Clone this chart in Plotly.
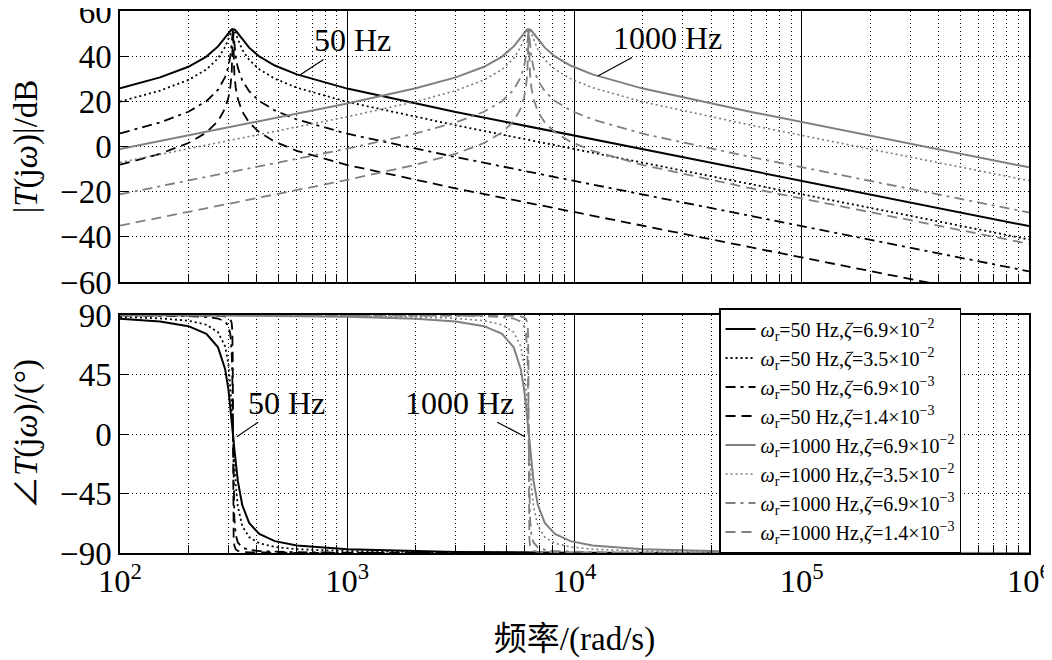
import plotly.graph_objects as go
from plotly.subplots import make_subplots

# 频率 (rad/s)
w_50 = [100, 150, 200, 240, 270, 290, 300, 306, 310, 312, 313.5, 314.16, 314.8, 316.3,
        318.5, 323, 330, 345, 370, 410, 480, 600, 1000, 3000, 1e4, 1e5, 1e6]
w_1000 = [100, 300, 1000, 2000, 3000, 4000, 4800, 5400, 5800, 6000, 6120, 6200, 6240, 6270,
          6283.2, 6296, 6326, 6370, 6460, 6600, 6900, 7400, 8200, 9600, 12000, 20000,
          60000, 2e5, 1e6]

# 幅值 (dB)
mag_50_a = [25.78, 30.59, 35.30, 39.80, 44.33, 48.30, 50.40, 51.41, 51.84, 51.96, 52.00, 52.00,
            52.00, 51.96, 51.83, 51.35, 50.22, 47.46, 43.76, 39.90, 35.87, 31.92, 25.64, 15.30,
            4.75, -15.26, -35.26]
mag_50_b = [19.88, 24.72, 29.47, 34.10, 39.02, 44.05, 47.62, 50.05, 51.41, 51.83, 51.98, 52.00,
            51.98, 51.84, 51.38, 49.88, 47.26, 42.87, 38.37, 34.20, 30.05, 26.05, 19.74, 9.40,
            -1.15, -21.16, -41.16]
mag_50_c = [5.79, 10.63, 15.39, 20.07, 25.13, 30.67, 35.40, 40.09, 45.25, 49.00, 51.62, 52.00,
            51.64, 49.06, 45.05, 39.65, 34.85, 29.31, 24.46, 20.17, 15.98, 11.96, 5.65, -4.70,
            -15.25, -35.26, -55.26]
mag_50_d = [-8.08, -3.23, 1.53, 6.21, 11.28, 16.85, 21.64, 26.50, 32.38, 37.97, 46.89, 52.00,
            47.05, 38.10, 32.12, 26.04, 21.08, 15.48, 10.61, 6.31, 2.12, -1.90, -8.21, -18.56,
            -29.11, -49.12, -69.12]
mag_1000_a = [-1.16, 8.40, 19.06, 25.78, 30.59, 35.30, 39.80, 44.33, 48.30, 50.40, 51.41, 51.84,
              51.96, 52.00, 52.00, 52.00, 51.96, 51.83, 51.35, 50.22, 47.46, 43.76, 39.90, 35.87,
              31.92, 25.64, 15.30, 4.75, -9.24]
mag_1000_b = [-7.06, 2.50, 13.16, 19.88, 24.72, 29.47, 34.10, 39.02, 44.05, 47.62, 50.05, 51.41,
              51.83, 51.98, 52.00, 51.98, 51.84, 51.38, 49.88, 47.26, 42.87, 38.37, 34.20, 30.05,
              26.05, 19.74, 9.40, -1.15, -15.14]
mag_1000_c = [-21.16, -11.60, -0.94, 5.79, 10.63, 15.39, 20.07, 25.13, 30.67, 35.40, 40.09, 45.25,
              49.00, 51.62, 52.00, 51.64, 49.06, 45.05, 39.65, 34.85, 29.31, 24.46, 20.17, 15.98,
              11.96, 5.65, -4.70, -15.25, -29.24]
mag_1000_d = [-35.02, -25.46, -14.80, -8.08, -3.23, 1.53, 6.21, 11.28, 16.85, 21.64, 26.50, 32.38,
              37.97, 46.89, 52.00, 47.05, 38.10, 32.12, 26.04, 21.08, 15.48, 10.61, 6.31, 2.12,
              -1.90, -8.21, -18.56, -29.11, -43.10]

# 相位 (°)
ph_50_a = [87.20, 85.12, 81.60, 75.79, 65.59, 49.26, 33.77, 20.88, 10.93, 5.71, 1.74, 0,
           -1.69, -5.62, -11.25, -21.91, -35.49, -53.66, -67.23, -75.63, -81.02, -84.31,
           -87.25, -89.16, -89.75, -89.98, -90.00]
ph_50_b = [88.58, 87.52, 85.71, 82.68, 77.04, 66.40, 52.81, 36.94, 20.85, 11.15, 3.43, 0,
           -3.34, -10.99, -21.41, -38.41, -54.58, -69.53, -77.98, -82.60, -85.42, -87.11,
           -88.60, -89.58, -89.87, -89.99, -90.00]
ph_50_c = [89.72, 89.51, 89.15, 88.55, 87.40, 85.08, 81.49, 75.31, 62.63, 44.98, 16.93, 0,
           -16.47, -44.56, -63.31, -76.04, -82.02, -85.79, -87.60, -88.53, -89.09, -89.43,
           -89.72, -89.92, -89.98, -90.00, -90.00]
ph_50_d = [89.94, 89.90, 89.83, 89.71, 89.47, 89.00, 88.26, 86.95, 84.00, 78.52, 56.31, 0,
           -55.54, -78.36, -84.18, -87.11, -88.37, -89.14, -89.51, -89.70, -89.82, -89.88,
           -89.94, -89.98, -89.99, -90.00, -90.00]
ph_1000_a = [89.87, 89.62, 88.71, 87.20, 85.12, 81.60, 75.79, 65.59, 49.26, 33.77, 20.88, 10.93,
             5.71, 1.74, 0, -1.69, -5.62, -11.25, -21.91, -35.49, -53.66, -67.23, -75.63,
             -81.02, -84.31, -87.25, -89.16, -89.75, -89.95]
ph_1000_b = [89.94, 89.81, 89.35, 88.58, 87.52, 85.71, 82.68, 77.04, 66.40, 52.81, 36.94, 20.85,
             11.15, 3.43, 0, -3.34, -10.99, -21.41, -38.41, -54.58, -69.53, -77.98, -82.60,
             -85.42, -87.11, -88.60, -89.58, -89.87, -89.97]
ph_1000_c = [89.99, 89.96, 89.87, 89.72, 89.51, 89.15, 88.55, 87.40, 85.08, 81.49, 75.31, 62.63,
             44.98, 16.93, 0, -16.47, -44.56, -63.31, -76.04, -82.02, -85.79, -87.60, -88.53,
             -89.09, -89.43, -89.72, -89.92, -89.98, -90.00]
ph_1000_d = [90.00, 89.99, 89.97, 89.94, 89.90, 89.83, 89.71, 89.47, 89.00, 88.26, 86.95, 84.00,
             78.52, 56.31, 0, -55.54, -78.36, -84.18, -87.11, -88.37, -89.14, -89.51, -89.70,
             -89.82, -89.88, -89.94, -89.98, -89.99, -90.00]

names = [
    "<i>ω</i><sub>r</sub>=50 Hz,<i>ζ</i>=6.9×10<sup>−2</sup>",
    "<i>ω</i><sub>r</sub>=50 Hz,<i>ζ</i>=3.5×10<sup>−2</sup>",
    "<i>ω</i><sub>r</sub>=50 Hz,<i>ζ</i>=6.9×10<sup>−3</sup>",
    "<i>ω</i><sub>r</sub>=50 Hz,<i>ζ</i>=1.4×10<sup>−3</sup>",
    "<i>ω</i><sub>r</sub>=1000 Hz,<i>ζ</i>=6.9×10<sup>−2</sup>",
    "<i>ω</i><sub>r</sub>=1000 Hz,<i>ζ</i>=3.5×10<sup>−2</sup>",
    "<i>ω</i><sub>r</sub>=1000 Hz,<i>ζ</i>=6.9×10<sup>−3</sup>",
    "<i>ω</i><sub>r</sub>=1000 Hz,<i>ζ</i>=1.4×10<sup>−3</sup>",
]

# 曲线样式: (频率, 幅值, 相位, 颜色, 线宽, 线型)
curves = [
    (w_50, mag_50_a, ph_50_a, "black", 2, "solid"),
    (w_50, mag_50_b, ph_50_b, "black", 1.8, "2px,3px"),
    (w_50, mag_50_c, ph_50_c, "black", 1.8, "10px,5px,3px,5px"),
    (w_50, mag_50_d, ph_50_d, "black", 1.8, "10px,6px"),
    (w_1000, mag_1000_a, ph_1000_a, "#808080", 2, "solid"),
    (w_1000, mag_1000_b, ph_1000_b, "#7c7c7c", 1.6, "2px,3px"),
    (w_1000, mag_1000_c, ph_1000_c, "#808080", 1.8, "10px,5px,3px,5px"),
    (w_1000, mag_1000_d, ph_1000_d, "#808080", 1.8, "10px,6px"),
]

FONT = "Liberation Serif, Times New Roman, Noto Sans CJK SC"

fig = make_subplots(rows=2, cols=1, shared_xaxes=True)

for name, (w, mag, ph, col, lw, dash) in zip(names, curves):
    fig.add_trace(go.Scatter(x=w, y=mag, mode="lines", name=name, legendgroup=name,
                             showlegend=False, line=dict(color=col, width=lw, dash=dash)),
                  row=1, col=1)
    fig.add_trace(go.Scatter(x=w, y=ph, mode="lines", name=name, legendgroup=name,
                             line=dict(color=col, width=lw, dash=dash)),
                  row=2, col=1)

xax = dict(type="log", range=[2, 6], dtick=1, exponentformat="power", automargin=False,
           ticklabeloverflow="allow",
           showline=True, linecolor="black", linewidth=1.5, mirror=True,
           ticks="inside", ticklen=10, tickcolor="black",
           showgrid=True, gridcolor="black", gridwidth=1.2,
           minor=dict(dtick="D1", ticks="inside", ticklen=8, tickcolor="black",
                      showgrid=True, gridcolor="black", gridwidth=1, griddash="1px,3px"),
           zeroline=False, tickfont=dict(size=26))
yax = dict(showline=True, linecolor="black", linewidth=1.5, mirror=True, automargin=False,
           ticklabeloverflow="allow",
           ticks="inside", ticklen=8, tickcolor="black",
           showgrid=True, gridcolor="black", gridwidth=1, griddash="1px,3px",
           zeroline=False, tickfont=dict(size=33))

fig.update_xaxes(**xax)
fig.update_xaxes(showticklabels=False, row=1, col=1)
fig.update_xaxes(title=dict(text="频率/(rad/s)", font=dict(size=33), standoff=28), row=2, col=1)
fig.update_yaxes(**yax)
fig.update_yaxes(range=[-60, 60], dtick=20, row=1, col=1,
                 title=dict(text="|<i>T</i>(j<i>ω</i>)|/dB", font=dict(size=33), standoff=18))
fig.update_yaxes(range=[-90, 90], dtick=45, row=2, col=1,
                 title=dict(text="∠<i>T</i>(j<i>ω</i>)/(°)", font=dict(size=33), standoff=18))

fig.update_layout(yaxis=dict(domain=[0.5, 1.0]), yaxis2=dict(domain=[0.0, 0.439]))

ann = dict(showarrow=True, arrowhead=0, arrowwidth=1.2, arrowcolor="black",
           font=dict(size=32, color="black"))
fig.add_annotation(x=2.792, y=31.7, xref="x", yref="y", text="50 Hz", ax=53, ay=-35, **ann)
fig.add_annotation(x=4.103, y=31.2, xref="x", yref="y", text="1000 Hz", ax=70, ay=-38, **ann)
fig.add_annotation(x=2.514, y=-2, xref="x2", yref="y2", text="50 Hz", ax=50, ay=-34, **ann)
fig.add_annotation(x=3.782, y=-2, xref="x2", yref="y2", text="1000 Hz", ax=-65, ay=-34, **ann)

# 页面有 8px 的边距, 图幅相应缩小
fig.update_layout(
    width=1044, height=652,
    margin=dict(l=112, r=23, t=3, b=107, autoexpand=False),
    plot_bgcolor="white", paper_bgcolor="white",
    font=dict(family=FONT, color="black", size=30),
    legend=dict(x=0.659, y=0.452, xanchor="left", yanchor="top",
                bgcolor="white", bordercolor="black", borderwidth=1.5,
                font=dict(size=20), itemwidth=30, tracegroupgap=0),
)

fig.write_html("out.html")
